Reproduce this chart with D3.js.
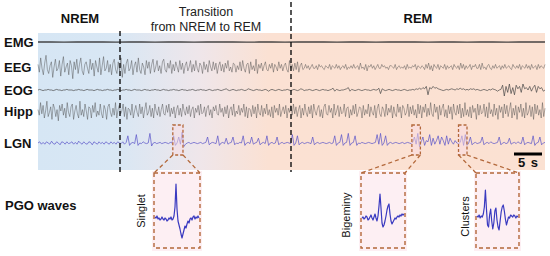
<!DOCTYPE html>
<html>
<head>
<meta charset="utf-8">
<script src="https://cdn.jsdelivr.net/npm/d3@7/dist/d3.min.js"></script>
<style>
  body { margin: 0; background: #fff; }
  text { font-family: Arial, "Liberation Sans", sans-serif; }
</style>
</head>
<body>
<div id="chart"></div>
<script>
// recordings (arbitrary units, up = positive)
var emg = [0,0.2,-0.2,0,0.2,0,-0.2,0.2,0,-0.2,0,0.2,-0.2,0,0.2,0,-0.2,0,0.2,-0.2,
  0,0.2,0,-0.2,0.2,0,-0.2,0,0.2,0,-0.2,0.2,0,-0.2,0,0.2,-0.2,0,0.2,0];

var eeg = [2,-4,7,-1,-6,3,9,-2,-5,1,4,-8,0,6,-3,-1,5,-7,2,8,-4,0,3,-6,5,1,-9,4,-2,6,-5,2,7,-3,-6,2,4,-1,-5,6,-2,3,-7,5,0,-4,7,-6,1,8,-3,-1,5,-4,2,-6,3,6,-2,-5,4,-3,7,-8,2,
  -5,3,6,-3,-1,5,-6,1,4,-4,7,-2,-5,3,0,-6,5,-1,4,-5,2,6,-4,0,5,-3,1,-5,4,6,-2,-4,3,-1,5,-5,2,-3,4,0,
  -4,5,-2,3,-5,1,4,-3,0,5,-4,2,-3,5,-1,-4,3,1,-5,4,-2,2,-4,5,0,-3,4,-2,3,-5,1,4,-3,2,-4,3,-1,5,-3,0,
  -4,3,2,-4,1,-2,4,-3,5,-1,-4,2,3,-5,4,-2,1,-3,6,-5,2,-1,3,-3,1,4,-2,-3,2,-1,3,-4,2,0,-3,4,-1,2,-3,1,
  3,-2,-4,5,-1,2,-3,3,-2,4,-4,1,3,-2,-1,
  2,-1,1,-2,0,2,-1,-1,1,-2,2,0,1,-1,-2,1,0,-1,2,-2,1,0,-1,2,-1,1,-2,0,1,-1,2,-2,0,-1,1,-1,2,-1,0,1,
  -2,3,-1,0,-2,2,-3,1,0,2,-1,1,-2,0,2,-1,-1,2,0,1,-1,0,-2,1,1,0,-1,2,-2,0,1,-1,0,-1,1,-2,2,-1,0,-1,
  1,0,2,-2,1,0,-1,1,0,-2,2,-1,3,-2,1,-3,2,0,-1,2,-2,1,0,-1,2,-2,1,-1,0,1,-2,2,0,-1,1,-2,3,-1,2,-2,
  1,-1,0,2,-2,1,0,2,-1,-1,2,-2,3,-1,0,-2,1,2,-1,-2,1,-1,2,-1,0,1,-2,1,-1,2,-1,0,1,-1,-2,2,0,-1,1,-1,
  2,-2,1,0,-1,2,-1,1,-2,2,-1,0,1,-2,2,-1,1,0,-1,2];

var eog = [0,0.5,0,-0.5,0,0,0.5,0,0,-0.5,0,0.5,0,0,-0.5,0,0,0.5,0,0,
  0,-0.5,0,0,0.5,0,0,-0.5,0,0.5,0,0,0,-0.5,0,0.5,0,0,-0.5,0,
  0,0.5,0,0,-0.5,0,0,0.5,0,-0.5,0,0,0.5,0,0,-0.5,0,0.5,0,0,
  0,-0.5,0,0.5,0,0,-0.5,0,0,0.5,0,0,-0.5,0,0.5,0,0,-0.5,0,0,
  0.5,0,0,-0.5,0,0.5,0,0,-0.5,0,0,0.5,0,-0.5,0,0,0.5,0,0,-0.5,
  0,0.5,0,-0.5,0,0,0.5,0,-0.5,0,0.5,1,0,-0.5,0,0.5,0,-0.5,0,0,
  0.5,0,-0.5,0,1,0.5,0,-0.5,0,0.5,0,0,-0.5,0,0.5,0,-1,0,0.5,0,
  -0.5,0,0.5,0,-0.5,0,0,0.5,0,-0.5,0,0.5,0,-0.5,0,1,0.5,-0.5,0,0,
  0.5,0,-0.5,0,0.5,0,-0.5,0,0.5,0,0,-0.5,0,0.5,1.5,-1,0.5,0,-0.5,0,
  0,0.5,1,2,-1,0.5,0,-0.5,0,0.5,0,-0.5,0,0.5,0,0,-0.5,0,0.5,0,
  0,1.5,-3,1,0,-0.5,0,0.5,0,-0.5,0,0.5,0,0,-0.5,0,0.5,0,-0.5,0,
  0,0.5,0,1,0.5,1.5,0.5,2,1,3,-4,2,1,3,1.5,2,1,0.5,0,-0.5,
  0,0.5,0,0.5,1,0.5,0,1,0.5,1.5,0.5,1,0,0.5,0,1,0.5,1,0,0.5,
  0,-0.5,0,0.5,0,-0.5,0.5,0,1,0.5,0,-1,0,0.5,4,-5,3,-2,5,-3,
  2,-4,4,1,3,-2,5,1,2,0,3,-1,2,4,-2,3,1,2,-1,0];

var hipp = [1,-3,6,-2,4,-5,0,7,-4,-1,3,-6,5,2,-4,1,-7,4,0,5,-3,2,-5,6,-1,-4,3,5,-6,0,4,-2,-5,7,-3,1,-4,5,0,-6,
  3,2,-5,4,-1,6,-4,0,-3,5,-2,-5,4,1,-6,3,5,-1,-4,2,-3,6,-5,1,4,-2,0,5,-4,3,-6,2,1,-3,5,-5,0,4,-1,-4,
  5,-2,3,-5,1,6,-3,-1,4,-4,2,-5,5,0,-3,3,-4,1,5,-2,
  -3,4,-1,5,-4,2,-2,3,-5,1,4,-3,2,-4,5,0,-3,3,-2,4,-4,1,3,-5,2,-1,4,-3,5,-2,-1,3,-4,2,4,-3,1,-5,3,0,
  4,-2,-3,5,-1,2,-4,3,-2,4,-5,1,3,-3,5,-4,0,-2,4,-3,2,-1,5,-4,3,-5,2,1,-4,4,-2,3,-5,5,-1,-3,4,-4,2,-2,
  5,-3,1,-4,3,-5,4,-1,2,-3,5,-4,0,3,-2,4,-5,2,-1,4,
  -3,5,-2,3,-4,1,4,-5,2,-3,5,-1,-4,3,-2,4,-5,5,0,-3,2,4,-4,1,-5,3,5,-2,-3,4,-1,2,-5,5,-3,0,4,-4,3,-2,
  -1,5,-4,2,3,-5,1,-3,4,-2,5,-4,-1,3,2,-5,4,-3,1,-2,5,-4,3,-1,-3,4,-5,2,5,-2,-4,3,1,-4,5,-3,2,-1,4,-5,
  3,-2,-4,5,-1,3,-5,4,2,-3,-1,5,-4,3,-2,4,-3,1,-5,5,
  -2,4,-5,3,-1,5,-4,2,-3,6,-2,-4,5,-1,3,-6,4,-3,2,5,-4,1,-5,4,-2,3,-6,5,-1,-3,4,-2,5,-5,2,-4,6,-3,1,-4,
  3,-5,4,-1,2,-6,5,-3,4,-2,-1,5,-4,3,-5,6,-2,1,-4,5,-3,2,-6,4,-1,3,-5,5,-2,4,-4,1,6,-5,2,-3,4,-6,3,-1,
  5,-4,2,-5,6,-3,-1,4,-4,3,-6,5,-2,4,-3,1,-5,6,-4,2];

var lgn = [0,1,-1,0.5,-1,1,0,-1,1.5,-0.5,-1,1,0,-1.5,1,0.5,-1,1,-0.5,0,
  1,-1,0.5,-1,1.5,0,-1,1,-0.5,-1,1,0.5,-1.5,1,0,-1,1,-0.5,0.5,-1,
  1,0,-1,1,-0.5,0.5,-1,1,0,-0.5,1,-1,0.5,6,-2,0,0.5,-0.5,7,-2,
  0,-0.5,1,0,-0.5,0,8,-2.5,0,0.5,-0.5,0,0.5,-0.5,0,0.5,0,-0.5,0.5,0,
  6,-2,0,5,-1,9,-3,-1,0,0.5,-0.5,0,0.5,0,-0.5,0,0.5,-0.5,0,0.5,
  5,-1.5,0,0.5,0,-0.5,6,-2,0,0.5,-0.5,4,-1,0,0.5,5,-1.5,0,-0.5,0.5,
  0,6,-2,0,0.5,-0.5,5,-1,0,0.5,4,-1.5,0,0.5,-0.5,6,-2,0,0.5,-0.5,
  0,5,-1.5,0,0.5,-0.5,0,0.5,0,-0.5,7,-2,0,6,-1.5,0,0.5,-0.5,0,0.5,
  0,-0.5,5,-1.5,0,0.5,-0.5,0,0.5,0,-0.5,0,0.5,-0.5,0,6,-2,0,0.5,7,
  -2,0,0.5,8,-2,0,0.5,6,-2,0,-0.5,0.5,0,-0.5,0,0.5,0,-0.5,0,0.5,
  7,-1,8,-2,0,6,-2,0,0.5,-0.5,0,0.5,0,-0.5,0,0.5,-0.5,0,0.5,0,
  -0.5,0.5,5,-1,8,-3,1,5,-2,2,1,7,-2,4,-1,2,6,-1,5,2,
  -2,6,-1,4,1,-1,2,0,-0.5,0.5,6,-2,7,-2,0,5,-1.5,0,0.5,-0.5,
  0,0.5,5,-1.5,0,0.5,-0.5,1,0,-0.5,0,0.5,5,-1.5,0,0.5,-0.5,0,4,-1,
  0,0.5,-0.5,1,0,-0.5,5,-1.5,0,0.5,0,-0.5,6,-2,0,0.5,5,-1.5,0,0.5];

// zoomed PGO waves
var singlet = [2,1,3,0,1,-1,0,2,0,-1,1,0,-2,-1,1,0,2,-1,0,3,12,35,10,-2,-6,-10,-15,-19,-15,-11,-7,-9,-5,-2,-4,0,1,-1,2,3,0,2,1,3,1];
var bigeminy = [0,1,-1,0,2,1,-2,-1,1,3,0,-2,1,4,0,-3,2,12,24,10,-5,-9,-7,-3,2,8,12,14,4,-3,-6,-4,-2,0,-1,1,2,1,3,2,4,3,4];
var clusters = [1,0,2,-1,1,0,3,10,27,8,-8,-10,2,8,-4,-12,-6,6,9,-3,-10,-13,-4,5,10,12,6,-2,-8,-4,0,-1,2,1,0,2,1,-1,1,0];

var rowLabels = ['EMG', 'EEG', 'EOG', 'Hipp', 'LGN'];
var stageLabels = ['NREM', 'Transition', 'REM'];
var waveLabels = ['Singlet', 'Bigeminy', 'Clusters'];
var scaleLabel = '5 s';

var W = 550, H = 256;
var svg = d3.select('#chart').append('svg').attr('width', W).attr('height', H);
var defs = svg.append('defs');

var plotL = 38, plotR = 545, plotT = 33, plotB = 170;
var cut1 = 120, cut2 = 291;

// background gradient NREM -> REM
var grad = defs.append('linearGradient').attr('id', 'bg')
  .attr('gradientUnits', 'userSpaceOnUse')
  .attr('x1', plotL).attr('x2', plotR).attr('y1', 0).attr('y2', 0);
[[plotL, '#d6e6f4'], [cut1, '#d9e7f4'], [200, '#efe6ea'], [268, '#fbe1d3'], [plotR, '#fbe1d2']].forEach(function(s) {
  grad.append('stop').attr('offset', (s[0] - plotL) / (plotR - plotL)).attr('stop-color', s[1]);
});
svg.append('rect').attr('x', plotL).attr('y', plotT).attr('width', plotR - plotL).attr('height', plotB - plotT)
  .attr('fill', 'url(#bg)');

var traces = [
  { data: emg,  cy: 42,  k: 1.0, color: '#333', w: 1.3, o: 0.9 },
  { data: eeg,  cy: 67,  k: 1.3, color: '#444', w: 0.55, o: 0.8 },
  { data: eog,  cy: 90,  k: 1.2, color: '#444', w: 0.8, o: 0.85 },
  { data: hipp, cy: 111, k: 1.4, color: '#444', w: 0.55, o: 0.8 },
  { data: lgn,  cy: 143, k: 1.2, color: '#5a55c8', w: 0.8, o: 0.9 }
];

var lgnX;
traces.forEach(function(t, i) {
  var x = d3.scaleLinear().domain([0, t.data.length - 1]).range([plotL, plotR]);
  var y = d3.scaleLinear().domain([-10, 10]).range([t.cy + 10 * t.k, t.cy - 10 * t.k]);
  if (i === 4) lgnX = x;
  svg.append('path').datum(t.data)
    .attr('fill', 'none')
    .attr('stroke', t.color)
    .attr('stroke-width', t.w)
    .attr('stroke-opacity', t.o)
    .attr('stroke-linejoin', 'round')
    .attr('d', d3.line().x(function(d, j) { return x(j); }).y(function(d) { return y(d); }));
  svg.append('text').attr('x', 4).attr('y', t.cy + 5)
    .attr('font-size', 13).attr('font-weight', 'bold').attr('fill', '#111')
    .text(rowLabels[i]);
});

// stage borders
svg.append('line').attr('x1', cut1).attr('x2', cut1).attr('y1', 31).attr('y2', 172)
  .attr('stroke', '#111').attr('stroke-width', 1.4).attr('stroke-dasharray', '5,3');
svg.append('line').attr('x1', cut2).attr('x2', cut2).attr('y1', 2).attr('y2', 172)
  .attr('stroke', '#111').attr('stroke-width', 1.4).attr('stroke-dasharray', '5,3');

svg.append('text').attr('x', 80).attr('y', 23).attr('text-anchor', 'middle')
  .attr('font-size', 13).attr('font-weight', 'bold').attr('fill', '#111').text(stageLabels[0]);
svg.append('text').attr('x', 206).attr('y', 15.5).attr('text-anchor', 'middle')
  .attr('font-size', 12.5).attr('fill', '#222').text(stageLabels[1]);
svg.append('text').attr('x', 206).attr('y', 31).attr('text-anchor', 'middle')
  .attr('font-size', 12.5).attr('fill', '#222').text('from NREM to REM');
svg.append('text').attr('x', 418).attr('y', 23).attr('text-anchor', 'middle')
  .attr('font-size', 13).attr('font-weight', 'bold').attr('fill', '#111').text(stageLabels[2]);

// scale bar
svg.append('line').attr('x1', 514).attr('x2', 542).attr('y1', 154).attr('y2', 154)
  .attr('stroke', '#000').attr('stroke-width', 3);
svg.append('text').attr('x', 528).attr('y', 167).attr('text-anchor', 'middle')
  .attr('font-size', 13).attr('font-weight', 'bold').attr('word-spacing', 2).attr('fill', '#111').text(scaleLabel);

svg.append('text').attr('x', 5).attr('y', 210)
  .attr('font-size', 13).attr('font-weight', 'bold').attr('fill', '#111').text('PGO waves');

// insets
var insets = [
  { data: singlet, from: 79.5, to: 85.5, bx: 154, bw: 46, base: 219, lx: 145, ly: 211 },
  { data: bigeminy, from: 220.5, to: 225.5, bx: 361, bw: 44, base: 218, lx: 350, ly: 215 },
  { data: clusters, from: 248, to: 253, bx: 476, bw: 43, base: 217, lx: 469, ly: 216.5 }
];
var dash = '4,3', brown = '#b3683a';
var sTop = 125, sBot = 155, bTop = 173, bBot = 248;

insets.forEach(function(s, i) {
  var sx0 = lgnX(s.from), sx1 = lgnX(s.to);
  svg.append('rect').attr('x', s.bx - 2).attr('y', bTop - 2).attr('width', s.bw + 4).attr('height', bBot - bTop + 5)
    .attr('fill', '#fdeff3');
  svg.append('rect').attr('x', sx0 - 1).attr('y', sTop).attr('width', sx1 - sx0 + 2).attr('height', sBot - sTop)
    .attr('fill', '#f9dbe4').attr('opacity', 0.5);
  // dashed outlines
  svg.append('rect').attr('x', sx0).attr('y', sTop).attr('width', sx1 - sx0).attr('height', sBot - sTop)
    .attr('fill', 'none').attr('stroke', brown).attr('stroke-width', 1.3).attr('stroke-dasharray', '3,2');
  svg.append('rect').attr('x', s.bx).attr('y', bTop).attr('width', s.bw).attr('height', bBot - bTop)
    .attr('fill', 'none').attr('stroke', brown).attr('stroke-width', 1.4).attr('stroke-dasharray', dash);
  svg.append('line').attr('x1', sx0).attr('y1', sBot).attr('x2', s.bx).attr('y2', bTop)
    .attr('stroke', brown).attr('stroke-width', 1.3).attr('stroke-dasharray', dash);
  svg.append('line').attr('x1', sx1).attr('y1', sBot).attr('x2', s.bx + s.bw).attr('y2', bTop)
    .attr('stroke', brown).attr('stroke-width', 1.3).attr('stroke-dasharray', dash);

  var x = d3.scaleLinear().domain([0, s.data.length - 1]).range([s.bx + 1, s.bx + s.bw - 1]);
  var y = d3.scaleLinear().domain([0, 30]).range([s.base, s.base - 30]);
  svg.append('path').datum(s.data)
    .attr('fill', 'none').attr('stroke', '#3a3ac0').attr('stroke-width', 1.2)
    .attr('stroke-linejoin', 'round')
    .attr('d', d3.line().x(function(d, j) { return x(j); }).y(function(d) { return y(d); }));

  svg.append('text').attr('transform', 'translate(' + s.lx + ',' + s.ly + ') rotate(-90)')
    .attr('text-anchor', 'middle').attr('font-size', 11).attr('fill', '#111').text(waveLabels[i]);
});
</script>
</body>
</html>
